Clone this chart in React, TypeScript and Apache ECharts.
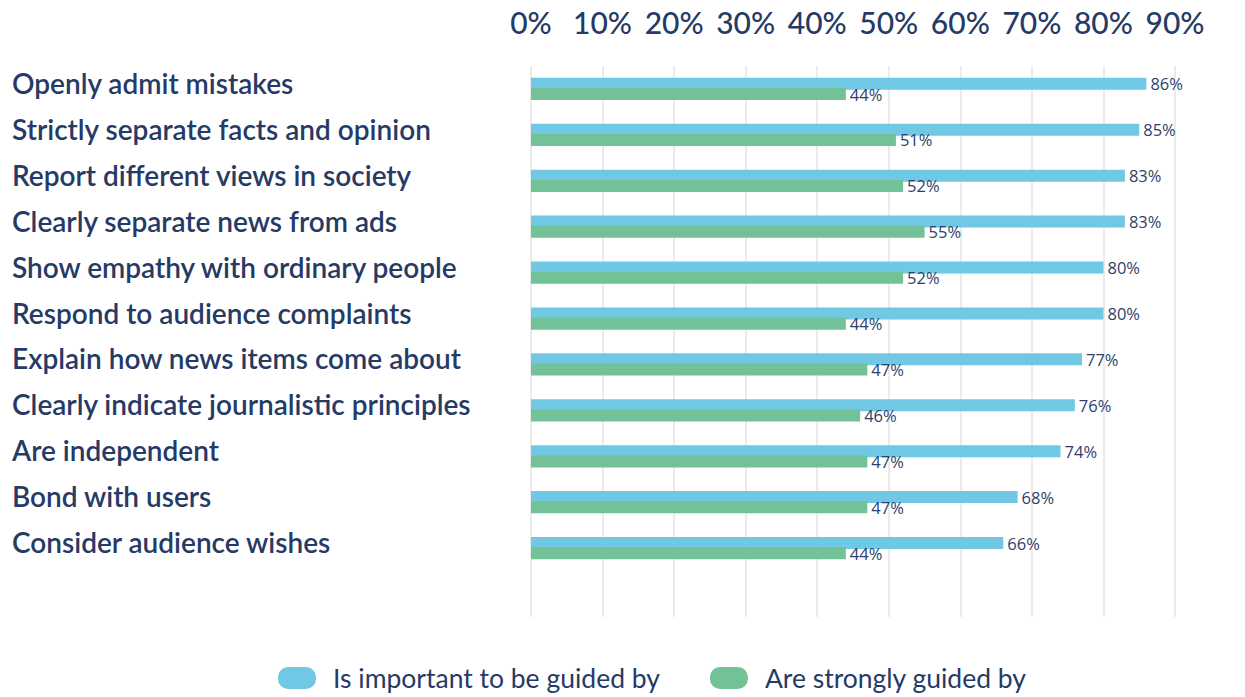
import React, { useEffect, useRef } from "react";
import * as echarts from "echarts";

const categories = [
  "Openly admit mistakes",
  "Strictly separate facts and opinion",
  "Report different views in society",
  "Clearly separate news from ads",
  "Show empathy with ordinary people",
  "Respond to audience complaints",
  "Explain how news items come about",
  "Clearly indicate journalistic principles",
  "Are independent",
  "Bond with users",
  "Consider audience wishes",
  "",
];
const importantValues = [86, 85, 83, 83, 80, 80, 77, 76, 74, 68, 66, null];
const guidedValues = [44, 51, 52, 55, 52, 44, 47, 46, 47, 47, 44, null];
const seriesNames = ["Is important to be guided by", "Are strongly guided by"];

const NAVY = "#263a66";
const BLUE = "#70c8e4";
const GREEN = "#73c196";
const PILL =
  "path://M10,0 H28 A10,10 0 0 1 38,10 V12 A10,10 0 0 1 28,22 H10 A10,10 0 0 1 0,12 V10 A10,10 0 0 1 10,0 Z";

export default function App() {
  const ref = useRef<HTMLDivElement>(null);
  useEffect(() => {
    if (!ref.current) return;
    const chart = echarts.init(ref.current, undefined, { renderer: "svg" });
    const valueLabel = {
      show: true,
      position: "right",
      distance: 4,
      formatter: "{c}%",
      color: "#2d3f6b",
      fontSize: 16.5,
      fontFamily: "Open Sans",
    };
    chart.setOption({
      animation: false,
      backgroundColor: "#ffffff",
      grid: { left: 531, right: 70, top: 66, bottom: 80, containLabel: false },
      legend: {
        top: 658,
        left: 273,
        itemWidth: 38,
        itemHeight: 22,
        itemGap: 50,
        icon: PILL,
        textStyle: {
          color: NAVY,
          fontSize: 26.5,
          fontFamily: "Lato",
          lineHeight: 30,
          padding: [0, 0, 0, 12],
        },
        data: seriesNames.map((n) => ({ name: n, icon: PILL })),
      },
      xAxis: {
        type: "value",
        position: "top",
        min: 0,
        max: 90,
        interval: 10,
        axisLine: { show: false },
        axisTick: { show: false },
        axisLabel: {
          formatter: "{value}%",
          color: NAVY,
          fontSize: 30,
          lineHeight: 32,
          fontWeight: 500,
          fontFamily: "Lato",
          margin: 28,
        },
        splitLine: { show: true, lineStyle: { color: "#ebebeb", width: 2 } },
      },
      yAxis: {
        type: "category",
        inverse: true,
        data: categories,
        axisLine: { show: false },
        axisTick: { show: false },
        axisLabel: {
          align: "left",
          margin: 519,
          color: NAVY,
          fontSize: 28,
          fontWeight: 600,
          fontFamily: "Lato",
          verticalAlign: "bottom",
          lineHeight: 12,
        },
      },
      series: [
        {
          name: seriesNames[0],
          type: "bar",
          data: importantValues,
          barWidth: 12,
          barGap: "-15%",
          itemStyle: { color: BLUE },
          label: valueLabel,
        },
        {
          name: seriesNames[1],
          type: "bar",
          data: guidedValues,
          barWidth: 12,
          itemStyle: { color: GREEN },
          label: valueLabel,
        },
      ],
    });
    return () => chart.dispose();
  }, []);
  return (
    <div
      ref={ref}
      style={{ position: "absolute", left: 0, top: 0, width: 1245, height: 697 }}
    />
  );
}
